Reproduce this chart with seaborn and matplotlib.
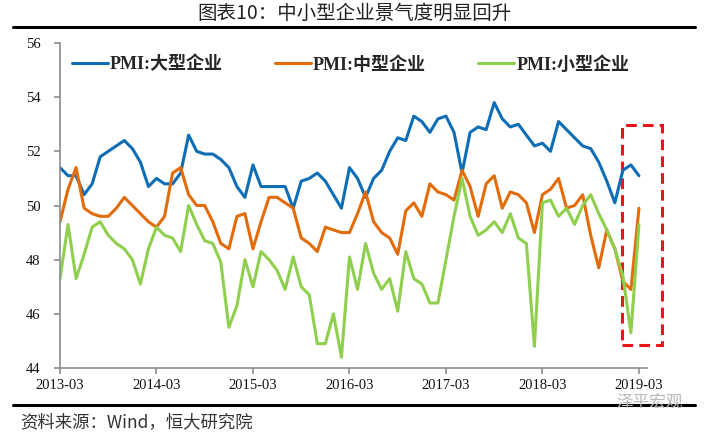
import numpy as np
import pandas as pd
import matplotlib
matplotlib.use('Agg')
import matplotlib.pyplot as plt
from matplotlib.lines import Line2D
from matplotlib.patches import Rectangle
import seaborn as sns

# monthly PMI by enterprise size, 2013-03 .. 2019-03
large = [51.4, 51.1, 51.1, 50.4, 50.8, 51.8, 52.0, 52.2, 52.4, 52.1, 51.6, 50.7,
         51.0, 50.8, 50.8, 51.2, 52.6, 52.0, 51.9, 51.9, 51.7, 51.4, 50.7, 50.3,
         51.5, 50.7, 50.7, 50.7, 50.7, 49.9, 50.9, 51.0, 51.2, 50.9, 50.4, 49.9,
         51.4, 51.0, 50.3, 51.0, 51.3, 52.0, 52.5, 52.4, 53.3, 53.1, 52.7, 53.2,
         53.3, 52.7, 51.2, 52.7, 52.9, 52.8, 53.8, 53.2, 52.9, 53.0, 52.6, 52.2,
         52.3, 52.0, 53.1, 52.8, 52.5, 52.2, 52.1, 51.6, 50.9, 50.1, 51.3, 51.5,
         51.1]
medium = [49.4, 50.6, 51.4, 49.9, 49.7, 49.6, 49.6, 49.9, 50.3, 50.0, 49.7, 49.4,
          49.2, 49.6, 51.2, 51.4, 50.4, 50.0, 50.0, 49.4, 48.6, 48.4, 49.6, 49.7,
          48.4, 49.4, 50.3, 50.3, 50.1, 49.9, 48.8, 48.6, 48.3, 49.2, 49.1, 49.0,
          49.0, 49.7, 50.5, 49.4, 49.0, 48.8, 48.2, 49.8, 50.1, 49.6, 50.8, 50.5,
          50.4, 50.2, 51.3, 50.7, 49.6, 50.8, 51.1, 49.9, 50.5, 50.4, 50.1, 49.0,
          50.4, 50.6, 51.0, 49.9, 50.0, 50.4, 48.9, 47.7, 49.1, 48.4, 47.2, 46.9,
          49.9]
small = [47.3, 49.3, 47.3, 48.2, 49.2, 49.4, 48.9, 48.6, 48.4, 48.0, 47.1, 48.4,
         49.2, 48.9, 48.8, 48.3, 50.0, 49.3, 48.7, 48.6, 47.9, 45.5, 46.3, 48.0,
         47.0, 48.3, 48.0, 47.6, 46.9, 48.1, 47.0, 46.7, 44.9, 44.9, 46.0, 44.4,
         48.1, 46.9, 48.6, 47.5, 46.9, 47.3, 46.1, 48.3, 47.3, 47.1, 46.4, 46.4,
         48.0, 49.6, 51.0, 49.6, 48.9, 49.1, 49.4, 49.0, 49.7, 48.8, 48.6, 44.8,
         50.1, 50.2, 49.6, 49.9, 49.3, 50.0, 50.4, 49.7, 49.1, 48.4, 47.4, 45.3,
         49.3]
series_names = ['PMI:大型企业', 'PMI:中型企业', 'PMI:小型企业']
colors = ['#0F6DB6', '#E36C0A', '#8FCF4E']
tick_labels = ['2013-03', '2014-03', '2015-03', '2016-03', '2017-03', '2018-03', '2019-03']

months = np.arange(len(large))
df = pd.concat([
    pd.DataFrame({'month': months, 'value': v, 'series': n})
    for v, n in zip([large, medium, small], series_names)
])

sns.set_style('white')
plt.rcParams['font.family'] = ['Liberation Serif', 'Noto Sans CJK SC']

fig = plt.figure(figsize=(7.09, 4.36), dpi=100)
ax = fig.add_axes([60 / 709, 1 - 368 / 436, 587 / 709, 325 / 436])

sns.lineplot(data=df, x='month', y='value', hue='series', palette=colors,
             linewidth=2.2, ax=ax)

ax.set_xlim(0, 73)
ax.set_ylim(44, 56)
ax.set_xticks(np.arange(0, 73, 12))
ax.set_xticklabels(tick_labels)
ax.set_yticks(np.arange(44, 57, 2))
ax.set_xlabel('')
ax.set_ylabel('')
for s in ['top', 'right']:
    ax.spines[s].set_visible(False)
for s in ['left', 'bottom']:
    ax.spines[s].set_color('#8c8c8c')
    ax.spines[s].set_linewidth(1.2)
ax.tick_params(axis='both', direction='out', length=4, width=1.2, color='#8c8c8c',
               labelsize=10.5, labelcolor='#111111')
ax.tick_params(axis='y', pad=10)
ax.tick_params(axis='x', pad=4)
ax.tick_params(left=True, bottom=True)

handles, labels = ax.get_legend_handles_labels()
leg = ax.legend(handles, labels, loc='upper center', bbox_to_anchor=(0.495, 1.01), ncol=3,
                frameon=False, handlelength=2.0, handletextpad=0.1, columnspacing=2.9,
                prop={'weight': 'bold', 'size': 13,
                      'family': ['Liberation Serif', 'Noto Sans CJK SC']})

# dashed highlight box around the latest months
ax.add_patch(Rectangle((69.9, 44.85), 5.0, 8.13, fill=False, edgecolor='#E8161B',
                       linewidth=2.2, linestyle=(0, (3.5, 2)), clip_on=False))

fig.text(0.5, 1 - 13 / 436, '图表10：中小型企业景气度明显回升', ha='center', va='center',
         fontsize=14, family=['Noto Sans CJK SC'], color='#222222')
fig.add_artist(Line2D([13 / 709, 695 / 709], [1 - 27 / 436] * 2, color='black', lw=2.2))
fig.add_artist(Line2D([13 / 709, 695 / 709], [1 - 405 / 436] * 2, color='black', lw=2.2))
fig.text(20 / 709, 1 - 422 / 436, '资料来源：Wind，恒大研究院', ha='left', va='center',
         fontsize=12.5, style='italic', family=['Noto Sans CJK SC'], color='#333333')
fig.text(650 / 709, 1 - 402 / 436, '泽平宏观', ha='center', va='center',
         fontsize=12, family=['Noto Sans CJK SC'], color='#b8b8b8')

plt.savefig('out.png', dpi=100)
plt.close()
